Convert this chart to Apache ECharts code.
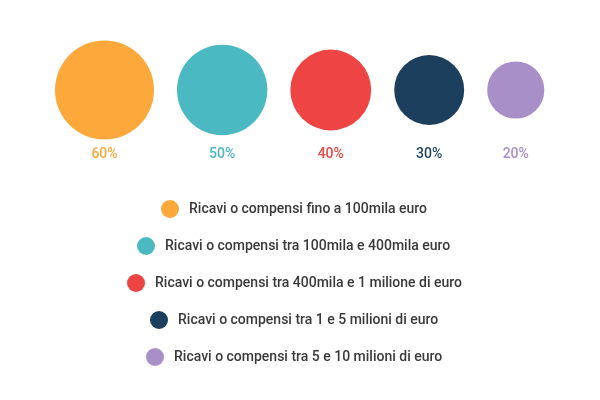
<!DOCTYPE html>
<html>
<head>
<meta charset="utf-8">
<script src="https://cdn.jsdelivr.net/npm/echarts@6/dist/echarts.min.js"></script>
<style>
html,body{margin:0;padding:0;background:#fff;}
#main{width:600px;height:400px;}
</style>
</head>
<body>
<div id="main"></div>
<script>
const categories = [
  'Ricavi o compensi fino a 100mila euro',
  'Ricavi o compensi tra 100mila e 400mila euro',
  'Ricavi o compensi tra 400mila e 1 milione di euro',
  'Ricavi o compensi tra 1 e 5 milioni di euro',
  'Ricavi o compensi tra 5 e 10 milioni di euro'
];
const values = [60, 50, 40, 30, 20];
const colors = ['#FCA83A', '#4BB9C2', '#EE4443', '#1B3F5D', '#A98FC8'];

const chart = echarts.init(document.getElementById('main'), null, {renderer: 'canvas'});

// layout: circles packed left-to-right, area proportional to value
const sizeOf = v => 12.78 * Math.sqrt(v);
const gap = 23;
const startX = 55;
const centerY = 90;
let cursor = startX;
const xs = values.map(v => {
  const d = sizeOf(v);
  const x = cursor + d / 2;
  cursor += d + gap;
  return x;
});

const rowCenters = [209, 246, 283, 320, 357];
const legendMidX = 294;
const legendFont = '500 14px Roboto';
const ctx = document.createElement('canvas').getContext('2d');
ctx.font = legendFont;

const series = categories.map((name, i) => ({
  name: name,
  type: 'scatter',
  symbol: 'circle',
  symbolSize: sizeOf(values[i]),
  itemStyle: {color: colors[i], opacity: 1},
  emphasis: {disabled: true},
  label: {
    show: true,
    position: 'inside',
    offset: [0, 64],
    formatter: values[i] + '%',
    color: colors[i],
    fontFamily: 'Roboto',
    fontSize: 14,
    fontWeight: 500
  },
  data: [[xs[i], centerY]]
}));

const legends = categories.map((name, i) => {
  const w = 18 + 5 + 5 + ctx.measureText(name).width;
  return {
    data: [name],
    left: Math.round(legendMidX - w / 2),
    top: rowCenters[i] - 9,
    padding: 0,
    icon: 'circle',
    itemWidth: 18,
    itemHeight: 18,
    itemGap: 0,
    selectedMode: false,
    textStyle: {
      fontFamily: 'Roboto',
      fontSize: 14,
      fontWeight: 500,
      color: '#3a3a3a',
      padding: [0, 0, 0, 5]
    }
  };
});

chart.setOption({
  backgroundColor: '#ffffff',
  animation: false,
  grid: {left: 0, right: 0, top: 0, bottom: 0},
  xAxis: {type: 'value', min: 0, max: 600, show: false},
  yAxis: {type: 'value', min: 0, max: 400, inverse: true, show: false},
  legend: legends,
  series: series
});
</script>
</body>
</html>
